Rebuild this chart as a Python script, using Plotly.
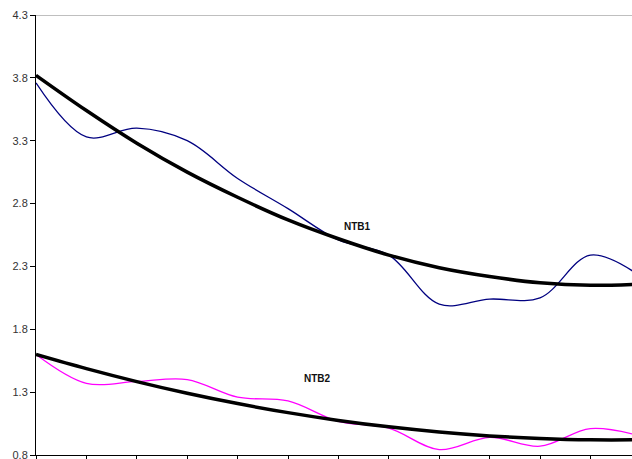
import plotly.graph_objects as go

# Category positions (13 periods; the last one sits just past the visible edge)
periods = list(range(13))

ntb1 = [3.76, 3.33, 3.40, 3.30, 3.00, 2.76, 2.51, 2.39, 2.00, 2.04, 2.05, 2.39, 2.22]
ntb1_trend = [3.82, 3.54, 3.28, 3.05, 2.85, 2.67, 2.52, 2.39, 2.29, 2.22, 2.17, 2.15, 2.16]

ntb2 = [1.60, 1.37, 1.385, 1.40, 1.26, 1.23, 1.067, 1.014, 0.843, 0.94, 0.87, 1.01, 0.95]
ntb2_trend = [1.60, 1.487, 1.384, 1.291, 1.209, 1.137, 1.075, 1.024, 0.983, 0.952, 0.932, 0.921, 0.921]

y_ticks = [0.8, 1.3, 1.8, 2.3, 2.8, 3.3, 3.8, 4.3]
y_labels = ["0.8", "1.3", "1.8", "2.3", "2.8", "3.3", "3.8", "4.3"]

fig = go.Figure()

fig.add_trace(go.Scatter(x=periods, y=ntb1, mode="lines", name="NTB1",
                         line=dict(color="#000080", width=1.3, shape="spline", smoothing=1)))
fig.add_trace(go.Scatter(x=periods, y=ntb1_trend, mode="lines", name="NTB1 trend",
                         line=dict(color="black", width=3.5, shape="spline", smoothing=1)))
fig.add_trace(go.Scatter(x=periods, y=ntb2, mode="lines", name="NTB2",
                         line=dict(color="#FF00FF", width=1.3, shape="spline", smoothing=1)))
fig.add_trace(go.Scatter(x=periods, y=ntb2_trend, mode="lines", name="NTB2 trend",
                         line=dict(color="black", width=3.5, shape="spline", smoothing=1)))

fig.add_annotation(x=6.37, y=2.62, text="<b>NTB1</b>", showarrow=False,
                   font=dict(family="Arial, Liberation Sans", size=10, color="#111"))
fig.add_annotation(x=5.585, y=1.41, text="<b>NTB2</b>", showarrow=False,
                   font=dict(family="Arial, Liberation Sans", size=10, color="#111"))

# Top border of the plot area
fig.add_shape(type="line", xref="paper", yref="y", x0=0, x1=1, y0=4.3, y1=4.3,
              line=dict(color="#808080", width=1))

fig.update_layout(
    width=632, height=459,
    margin=dict(l=36, r=0, t=15, b=3.5, autoexpand=False),
    paper_bgcolor="white", plot_bgcolor="white",
    showlegend=False,
    font=dict(family="Arial, Liberation Sans", size=11, color="#333"),
)
fig.update_xaxes(range=[0, 11.825], tickvals=periods, showticklabels=False,
                 automargin=False,
                 ticks="outside", ticklen=5, tickcolor="black", showgrid=False,
                 zeroline=False, showline=True, linecolor="black", linewidth=1)
fig.update_yaxes(range=[0.8, 4.3], tickvals=y_ticks, ticktext=y_labels,
                 ticklabeloverflow="allow", automargin=False,
                 ticks="outside", ticklen=5, tickcolor="black", showgrid=False,
                 zeroline=False, showline=True, linecolor="black", linewidth=1)

fig.write_html("out.html")
